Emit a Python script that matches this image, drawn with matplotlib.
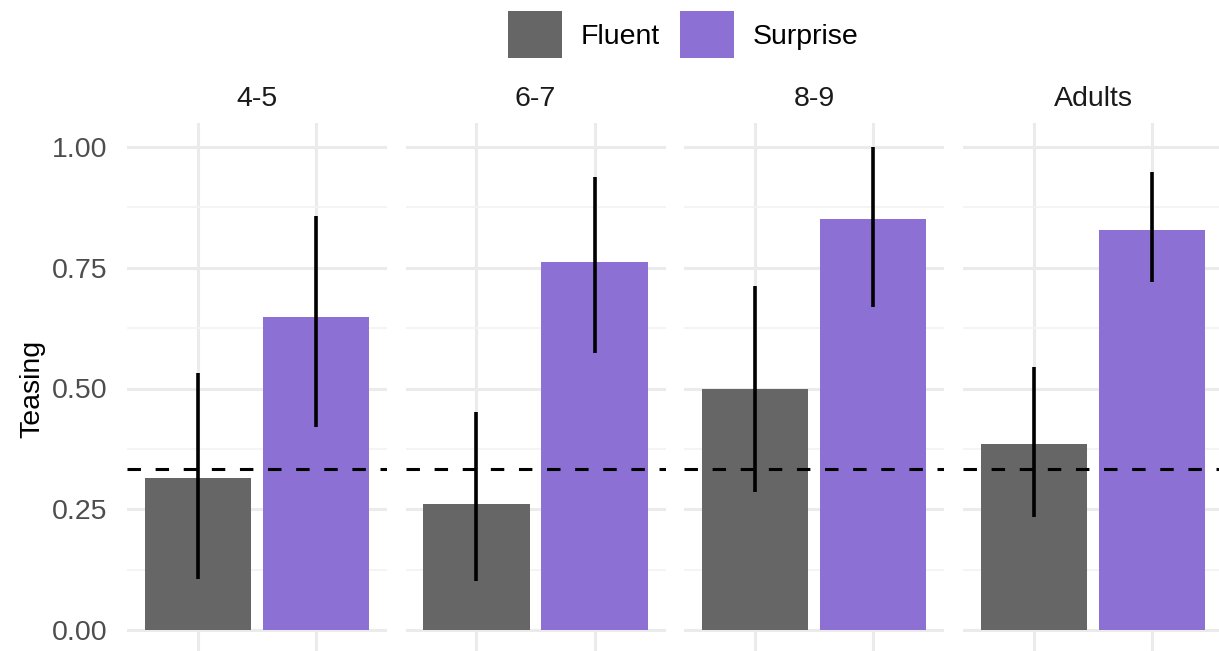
import matplotlib
matplotlib.use("Agg")
import matplotlib.pyplot as plt
from matplotlib.patches import Patch
from matplotlib.ticker import MultipleLocator

plt.rcParams["font.family"] = ["Liberation Sans", "DejaVu Sans"]

# Daten
groups = ["4-5", "6-7", "8-9", "Adults"]
conditions = ["Fluent", "Surprise"]
fluent_mean = [0.315, 0.261, 0.499, 0.386]
fluent_lo = [0.106, 0.101, 0.286, 0.233]
fluent_hi = [0.532, 0.451, 0.712, 0.545]
surprise_mean = [0.648, 0.762, 0.851, 0.829]
surprise_lo = [0.420, 0.573, 0.669, 0.720]
surprise_hi = [0.857, 0.938, 1.000, 0.948]
chance = 1 / 3

colors = {"Fluent": "#666666", "Surprise": "#8C70D3"}
grid_col = "#EBEBEB"
fs = 20.5

W, H = 1219, 651
fig = plt.figure(figsize=(W / 100, H / 100), dpi=100)

panel_left = [127, 405.5, 684, 963]
panel_w = 260
top_px, bottom_px = 123, 654

for i, g in enumerate(groups):
    ax = fig.add_axes([panel_left[i] / W, (H - bottom_px) / H,
                       panel_w / W, (bottom_px - top_px) / H])
    means = [fluent_mean[i], surprise_mean[i]]
    los = [fluent_lo[i], surprise_lo[i]]
    his = [fluent_hi[i], surprise_hi[i]]
    xs = [1, 2]
    ax.bar(xs, means, width=0.9, color=[colors[c] for c in conditions], zorder=2)
    ax.vlines(xs, los, his, color="black", lw=2.6, zorder=3)
    ax.axhline(chance, color="black", lw=2.2, linestyle=(0, (4.4, 4.8)), zorder=4)

    ax.set_xlim(0.4, 2.6)
    ax.set_ylim(-0.05, 1.05)
    ax.set_xticks(xs)
    ax.set_xticklabels([])
    ax.yaxis.set_major_locator(MultipleLocator(0.25))
    ax.yaxis.set_minor_locator(MultipleLocator(0.125))
    ax.grid(True, which="major", color=grid_col, lw=2.2, zorder=0)
    ax.grid(True, which="minor", axis="y", color="#F3F3F3", lw=1.3, zorder=0)
    ax.tick_params(length=0, which="both")
    for s in ax.spines.values():
        s.set_visible(False)
    ax.set_title(g, fontsize=fs, pad=12, color="#1A1A1A")
    if i == 0:
        ax.set_yticklabels(["%.2f" % v for v in ax.get_yticks()])
        ax.tick_params(axis="y", labelsize=fs, labelcolor="#4D4D4D", pad=14)
        ax.set_ylabel("Teasing", fontsize=fs, labelpad=5)
    else:
        ax.set_yticklabels([])

handles = [Patch(facecolor=colors[c], label=c) for c in conditions]
fig.legend(handles=handles, loc="upper center", bbox_to_anchor=(683 / W, 1.0),
           ncol=2, frameon=False, fontsize=fs, handlelength=1.9, handleheight=2.15,
           columnspacing=0.7, handletextpad=0.65, borderaxespad=0.2, borderpad=0.2)

fig.savefig("out.png", dpi=100)
